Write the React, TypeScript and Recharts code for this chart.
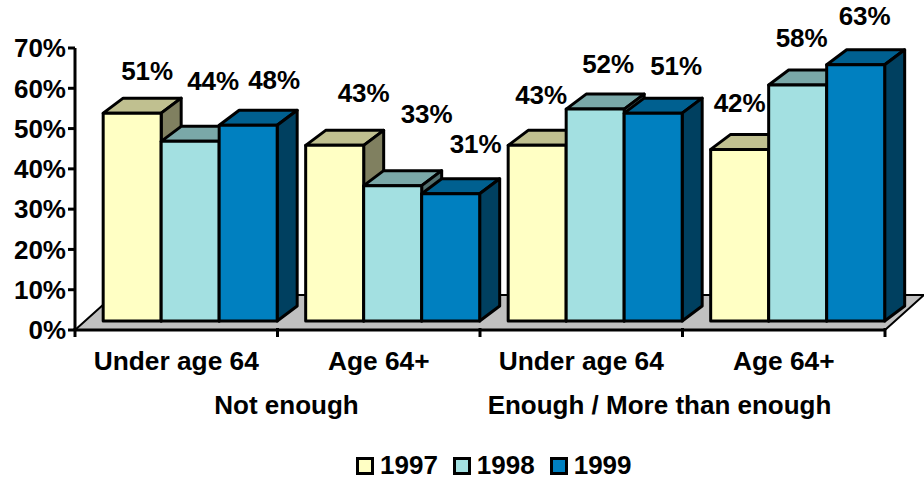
import { BarChart, Bar, XAxis, YAxis, Legend, LabelList, usePlotArea } from 'recharts';

const categories = ['Under age 64', 'Age 64+', 'Under age 64', 'Age 64+'];
const groups = ['Not enough', 'Enough / More than enough'];
const values1997 = [51, 43, 43, 42];
const values1998 = [44, 33, 52, 58];
const values1999 = [48, 31, 51, 63];
const yTicks = [0, 10, 20, 30, 40, 50, 60, 70];

const chartData = categories.map((category, i) => ({
  category,
  y1997: values1997[i],
  y1998: values1998[i],
  y1999: values1999[i],
}));

const FONT = '"Liberation Sans", Arial, sans-serif';
const FONT_SIZE = 26;

// 3D look: the bars stand a little behind the front edge of the floor
const BAR_DX = 14;
const BAR_DY = -9;
const TOP_LIFT = -2.4;
const DEPTH_X = 20;
const DEPTH_Y = -15;
const FLOOR_X = 39;
const FLOOR_Y = -35;

// label nudges from the top of each bar, the original was hand placed
const nudge1997 = [[15, -42], [29, -52], [4, -50], [0, -46]];
const nudge1998 = [[23, -60], [34, -72], [13, -45], [4, -47]];
const nudge1999 = [[26, -45], [25, -50], [23, -47], [9, -49]];
const groupShift = [9, -23];

function Floor() {
  const plot = usePlotArea();
  if (!plot) return null;
  const bottom = plot.y + plot.height;
  const left = plot.x;
  const right = plot.x + plot.width;
  const points = [
    [left, bottom],
    [right, bottom],
    [right + FLOOR_X, bottom + FLOOR_Y],
    [left + FLOOR_X, bottom + FLOOR_Y],
  ]
    .map((p) => p.join(','))
    .join(' ');
  return <polygon points={points} fill="#c0c0c0" stroke="#000" strokeWidth={2} />;
}

function makeBox(topFill: string, sideFill: string) {
  return function Box(props: any) {
    const { x, y, width, height, fill } = props;
    const l = x + BAR_DX;
    const r = l + width;
    const t = y + BAR_DY + TOP_LIFT;
    const b = y + height + BAR_DY;
    const dx = DEPTH_X;
    const dy = DEPTH_Y;
    return (
      <g stroke="#000" strokeWidth={3} strokeLinejoin="round">
        <polygon
          points={`${l},${t} ${l + dx},${t + dy} ${r + dx},${t + dy} ${r},${t}`}
          fill={topFill}
        />
        <polygon
          points={`${r},${t} ${r + dx},${t + dy} ${r + dx},${b + dy} ${r},${b}`}
          fill={sideFill}
        />
        <rect x={l} y={t} width={width} height={b - t} fill={fill} />
      </g>
    );
  };
}

function makeLabel(nudges: number[][]) {
  return function BarLabel(props: any) {
    const { x, y, width, value, index } = props;
    const [nx, ny] = nudges[index];
    return (
      <text
        x={x + BAR_DX + width / 2 + nx}
        y={y + BAR_DY + TOP_LIFT + ny}
        textAnchor="middle"
        dominantBaseline="central"
        fontFamily={FONT}
        fontSize={FONT_SIZE}
        fontWeight="bold"
        fill="#000"
      >
        {value}%
      </text>
    );
  };
}

function CategoryTick(props: any) {
  const { x, y, payload, width, visibleTicksCount } = props;
  const band = width / visibleTicksCount;
  const i = payload.index;
  const axisY = y - 8;
  return (
    <g>
      <line x1={x - band / 2} x2={x - band / 2} y1={axisY} y2={axisY + 9} stroke="#000" strokeWidth={3} />
      {i === visibleTicksCount - 1 && (
        <line x1={x + band / 2} x2={x + band / 2} y1={axisY} y2={axisY + 9} stroke="#000" strokeWidth={3} />
      )}
      <text
        x={x}
        y={axisY + 33}
        textAnchor="middle"
        dominantBaseline="central"
        fontFamily={FONT}
        fontSize={26.3}
        fontWeight="bold"
      >
        {payload.value}
      </text>
      {i % 2 === 0 && (
        <text
          x={x + band / 2 + groupShift[i / 2]}
          y={axisY + 77}
          textAnchor="middle"
          dominantBaseline="central"
          fontFamily={FONT}
          fontSize={FONT_SIZE}
          fontWeight="bold"
        >
          {groups[i / 2]}
        </text>
      )}
    </g>
  );
}

function LegendRow({ payload }: any) {
  return (
    <div style={{ display: 'flex', alignItems: 'center', fontFamily: FONT, fontSize: FONT_SIZE, fontWeight: 'bold', color: '#000' }}>
      {(payload || []).map((item: any) => (
        <div key={item.value} style={{ display: 'flex', alignItems: 'center', marginRight: 15 }}>
          <span
            style={{
              display: 'inline-block',
              boxSizing: 'border-box',
              width: 18,
              height: 18,
              background: item.color,
              border: '3px solid #000',
              marginRight: 6,
            }}
          />
          {item.value}
        </div>
      ))}
    </div>
  );
}

export default function App() {
  return (
    <div style={{ position: 'absolute', left: 0, top: 0, width: 924, height: 481 }}>
      <BarChart
        width={924}
        height={481}
        data={chartData}
        margin={{ top: 48, right: 39, bottom: 52, left: 5 }}
        barGap={0}
        barCategoryGap="7%"
      >
        <Floor />
        <XAxis
          dataKey="category"
          interval={0}
          height={67}
          tickLine={false}
          axisLine={{ stroke: '#000', strokeWidth: 3 }}
          tick={<CategoryTick />}
          tickMargin={0}
        />
        <YAxis
          domain={[0, 70]}
          ticks={yTicks}
          width={70}
          tickFormatter={(v) => `${v}%`}
          tickSize={7}
          tickMargin={2}
          axisLine={{ stroke: '#000', strokeWidth: 3 }}
          tickLine={{ stroke: '#000', strokeWidth: 3 }}
          tick={{ fontFamily: FONT, fontSize: FONT_SIZE, fontWeight: 'bold', fill: '#000' }}
        />
        <Bar dataKey="y1997" name="1997" fill="#ffffc4" shape={makeBox('#c0c090', '#808060')} isAnimationActive={false}>
          <LabelList dataKey="y1997" content={makeLabel(nudge1997)} />
        </Bar>
        <Bar dataKey="y1998" name="1998" fill="#a3e0e1" shape={makeBox('#7aa8a8', '#527070')} isAnimationActive={false}>
          <LabelList dataKey="y1998" content={makeLabel(nudge1998)} />
        </Bar>
        <Bar dataKey="y1999" name="1999" fill="#0080c0" shape={makeBox('#006090', '#004060')} isAnimationActive={false}>
          <LabelList dataKey="y1999" content={makeLabel(nudge1999)} />
        </Bar>
        <Legend
          content={<LegendRow />}
          wrapperStyle={{ position: 'absolute', left: 356, top: 450, width: 290, height: 32 }}
        />
      </BarChart>
    </div>
  );
}
